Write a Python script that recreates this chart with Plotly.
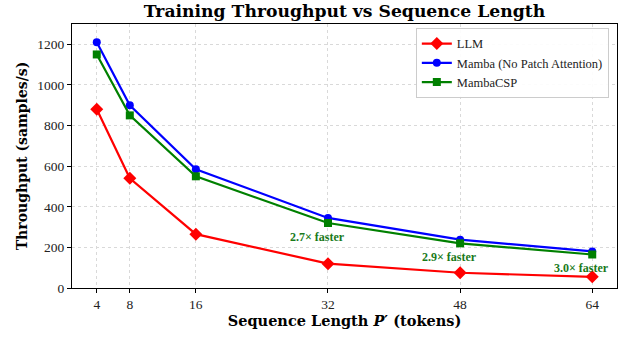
import plotly.graph_objects as go

seq_len = [4, 8, 16, 32, 48, 64]
llm = [880, 540, 265, 120, 75, 55]
mamba = [1210, 900, 585, 345, 238, 180]
mambacsp = [1150, 850, 550, 320, 220, 165]
speedup_x = [32, 48, 64]
speedup_labels = ["2.7× faster", "2.9× faster", "3.0× faster"]

FONT = "Liberation Serif"
BFONT = "DejaVu Serif"

fig = go.Figure()
fig.add_trace(go.Scatter(x=seq_len, y=llm, mode="lines+markers", name="LLM",
                         line=dict(color="#ff0000", width=2.2),
                         marker=dict(symbol="diamond", size=10, color="#ff0000")))
fig.add_trace(go.Scatter(x=seq_len, y=mamba, mode="lines+markers", name="Mamba (No Patch Attention)",
                         line=dict(color="#0000ff", width=2.2),
                         marker=dict(symbol="circle", size=8, color="#0000ff")))
fig.add_trace(go.Scatter(x=seq_len, y=mambacsp, mode="lines+markers", name="MambaCSP",
                         line=dict(color="#008000", width=2.2),
                         marker=dict(symbol="square", size=8, color="#008000")))

for xv, lab in zip(speedup_x, speedup_labels):
    i = seq_len.index(xv)
    fig.add_annotation(x=xv - 1.3, y=mambacsp[i], text="<b>" + lab + "</b>", showarrow=False,
                       yshift=-14, font=dict(family=FONT, size=12, color="#1a7a1a"))

fig.update_layout(
    width=630, height=338,
    margin=dict(l=72, r=12, t=24, b=46),
    paper_bgcolor="white", plot_bgcolor="white",
    font=dict(family=FONT, size=13.5, color="#222"),
    title=dict(text="<b>Training Throughput vs Sequence Length</b>", x=0.5, xref="paper",
               xanchor="center", y=0.985, yanchor="top",
               font=dict(family=BFONT, size=17.2, color="black")),
    legend=dict(x=0.985, y=0.985, xanchor="right", yanchor="top",
                bgcolor="rgba(255,255,255,0.9)", bordercolor="#cccccc", borderwidth=1,
                font=dict(family=FONT, size=12.5, color="#222"), tracegroupgap=0,
                itemwidth=30),
    showlegend=True,
)
fig.update_xaxes(range=[1, 67], tickvals=seq_len, showgrid=True, gridcolor="#d9d9d9", griddash="dot",
                 showline=True, linecolor="black", linewidth=1.2, mirror=True,
                 ticks="outside", ticklen=4, tickcolor="black", zeroline=False,
                 title=dict(text="<b>Sequence Length <i>P</i>′ (tokens)</b>", standoff=4,
                            font=dict(family=BFONT, size=14.5, color="black")))
fig.update_yaxes(range=[0, 1300], tickvals=[0, 200, 400, 600, 800, 1000, 1200], showgrid=True,
                 gridcolor="#d9d9d9", griddash="dot",
                 showline=True, linecolor="black", linewidth=1.2, mirror=True,
                 ticks="outside", ticklen=4, tickcolor="black", zeroline=False,
                 title=dict(text="<b>Throughput (samples/s)</b>", standoff=6,
                            font=dict(family=BFONT, size=14, color="black")))

fig.write_html("out.html")
